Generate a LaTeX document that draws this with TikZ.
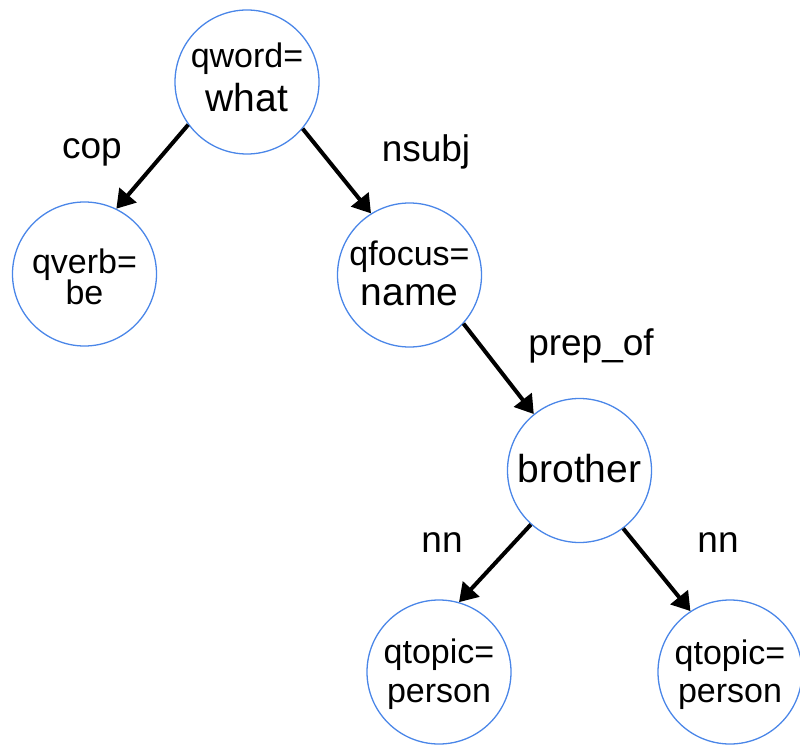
\documentclass[tikz,border=0pt]{standalone}
\usepackage{fontspec}
\setmainfont{Liberation Sans}
\usetikzlibrary{arrows.meta}
\definecolor{nodeblue}{RGB}{74,134,232}
\tikzset{
  circ/.style={circle, draw=nodeblue, line width=1.3pt, minimum size=144pt, inner sep=0pt},
  small/.style={anchor=base, inner sep=0pt, font=\fontsize{34}{34}\selectfont},
  big/.style={anchor=base, inner sep=0pt, font=\fontsize{39}{39}\selectfont},
  elabel/.style={anchor=base, inner sep=0pt, font=\fontsize{37}{37}\selectfont},
  edge/.style={line width=4pt, -{Triangle[length=18pt,width=22pt]}}
}
\begin{document}
\begin{tikzpicture}[x=1pt,y=-1pt]
\useasboundingbox (0,0) rectangle (800,746);
% circles
\node[circ] (qword) at (247,82) {};
\node[circ] (qverb) at (84.5,274) {};
\node[circ] (qfocus) at (409.5,275) {};
\node[circ] (brother) at (579.5,470.5) {};
\node[circ] (qtopicA) at (439,672) {};
\node[circ] (qtopicB) at (730,672) {};
% texts
\node[small] (t1) at (247,68) {qword=};
\node[big] (t2) at (247,112) {what};
\node[small] (t3) at (84.5,273) {qverb=};
\node[small] (t4) at (84.5,304) {be};
\node[small] (t5) at (409.5,265) {qfocus=};
\node[big] (t6) at (409.5,305) {name};
\node[big] (t7) at (579.5,482) {brother};
\node[small] (t8) at (439,663) {qtopic=};
\node[small] (t9) at (439,702) {person};
\node[small] (t10) at (730,664) {qtopic=};
\node[small] (t11) at (730,702) {person};
% edges
\draw[edge] (qword.216) -- (qverb.64);
\draw[edge] (qword.320) -- (qfocus.122);
\draw[edge] (qfocus.318) -- (brother.129);
\draw[edge] (brother.228) -- (qtopicA.74);
\draw[edge] (brother.307) -- (qtopicB.123);
% edge labels
\node[elabel] (l1) at (92,159) {cop};
\node[elabel] (l2) at (426,162) {nsubj};
\node[elabel] (l3) at (591,355) {prep\_of};
\node[elabel] (l4) at (442,552) {nn};
\node[elabel] (l5) at (718,552) {nn};
\end{tikzpicture}
\end{document}
